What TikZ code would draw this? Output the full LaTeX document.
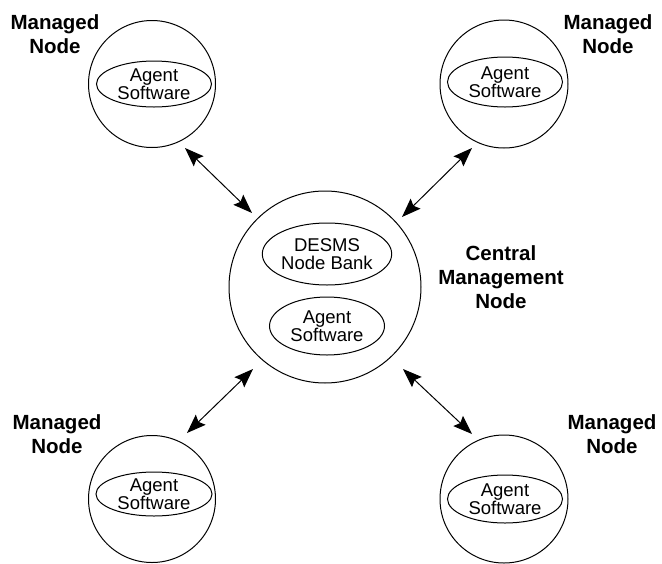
\documentclass[tikz,border=0pt]{standalone}
\usepackage{fontspec}
\setmainfont{Liberation Sans}
\usetikzlibrary{shapes.geometric,arrows.meta}
\begin{document}
\begin{tikzpicture}[x=1pt,y=-1pt,
  outer/.style={circle,draw,line width=1pt,inner sep=0pt},
  inner/.style={ellipse,draw,line width=1pt,inner sep=0pt,align=center,
    font=\fontsize{18.5}{17.5}\selectfont},
  lbl/.style={align=center,font=\fontsize{20.5}{24}\selectfont\bfseries},
  link/.style={line width=1pt,{Stealth[length=19pt,width=14pt,inset=3pt]}-{Stealth[length=19pt,width=14pt,inset=3pt]}}]
\useasboundingbox (0,0) rectangle (662,563);
% managed nodes
\node[outer,minimum size=127pt] (tl) at (152,84) {};
\node[inner,minimum width=115pt,minimum height=46pt] (tla) at (154,84) {Agent\\Software};
\node[outer,minimum size=128pt] (tr) at (504,84) {};
\node[inner,minimum width=115pt,minimum height=50pt] (tra) at (505,82) {Agent\\Software};
\node[outer,minimum size=127pt] (bl) at (152,499) {};
\node[inner,minimum width=116pt,minimum height=44pt] (bla) at (154,494) {Agent\\Software};
\node[outer,minimum size=128pt] (br) at (504,499) {};
\node[inner,minimum width=115pt,minimum height=48pt] (bra) at (505,499) {Agent\\Software};
% central node
\node[outer,minimum size=192pt] (c) at (325,287) {};
\node[inner,minimum width=115pt,minimum height=62pt] (cd) at (327,254) {DESMS\\Node Bank};
\node[inner,minimum width=115pt,minimum height=58pt] (ca) at (327,326) {Agent\\Software};
% labels
\node[lbl] (ltl) at (55,34) {Managed\\Node};
\node[lbl] (ltr) at (608,34) {Managed\\Node};
\node[lbl] (lbl) at (57,434) {Managed\\Node};
\node[lbl] (lbr) at (612,434) {Managed\\Node};
\node[lbl] (lc) at (501,277) {Central\\Management\\Node};
% arrows
\coordinate (p1) at (185,148); \coordinate (q1) at (252,213);
\coordinate (p2) at (472,148); \coordinate (q2) at (402,217);
\coordinate (p3) at (187,433); \coordinate (q3) at (253,369);
\coordinate (p4) at (472,434); \coordinate (q4) at (403,369);
\draw[link] (p1) -- (q1);
\draw[link] (p2) -- (q2);
\draw[link] (p3) -- (q3);
\draw[link] (p4) -- (q4);
\end{tikzpicture}
\end{document}
